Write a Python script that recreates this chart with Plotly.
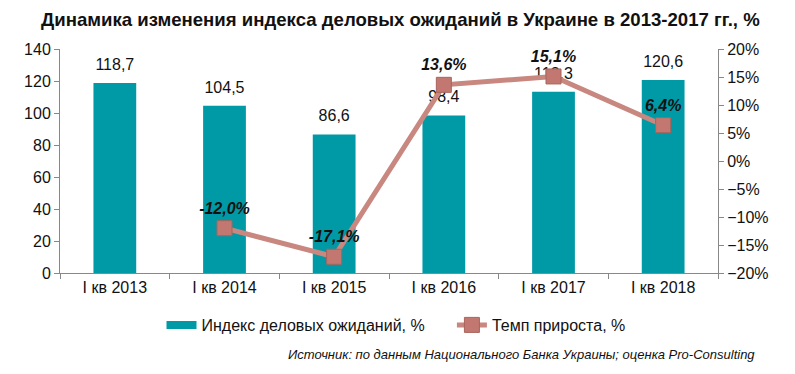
import plotly.graph_objects as go

categories = ["I кв 2013", "I кв 2014", "I кв 2015", "I кв 2016", "I кв 2017", "I кв 2018"]
index_values = [118.7, 104.5, 86.6, 98.4, 113.3, 120.6]
growth_values = [None, -12.0, -17.1, 13.6, 15.1, 6.4]

BAR_NAME = "Индекс деловых ожиданий, %"
LINE_NAME = "Темп прироста, %"
TEAL = "#0099A6"

fig = go.Figure()
fig.add_trace(go.Bar(
    x=categories, y=index_values, name=BAR_NAME, showlegend=False,
    marker=dict(color=TEAL, line=dict(width=0)),
    width=0.39,
))
# legend entry for the bars (wide rectangle like the original)
fig.add_trace(go.Scatter(
    x=[None], y=[None], name=BAR_NAME + "\u00a0" * 5, mode="lines",
    line=dict(color=TEAL, width=8),
))
fig.add_trace(go.Scatter(
    x=categories, y=growth_values, yaxis="y2", name=LINE_NAME,
    mode="lines+markers+text",
    line=dict(color="#C8877F", width=5),
    marker=dict(symbol="square", size=15, color="#C27870", line=dict(color="#A8645C", width=1)),
    texttemplate="<b><i>%{y:.1f}%</i></b>", textposition="top center",
    textfont=dict(size=16, color="#111", family="Liberation Sans, Arial"),
    cliponaxis=False,
))
# bar value labels drawn above the line
fig.add_trace(go.Scatter(
    x=categories, y=index_values, mode="markers+text", showlegend=False,
    marker=dict(size=13, color="rgba(0,0,0,0)"),
    texttemplate="%{y:.1f}", textposition="top center", cliponaxis=False,
    textfont=dict(size=16, color="#111", family="Liberation Sans, Arial"),
    hoverinfo="skip",
))

fig.update_layout(
    width=795, height=374,
    margin=dict(l=60, r=77, t=49, b=101, autoexpand=False),
    paper_bgcolor="white", plot_bgcolor="white",
    separators=", ",
    bargap=0.61,
    font=dict(family="Liberation Sans, Arial", size=16, color="#111"),
    showlegend=True,
    legend=dict(orientation="h", x=(396 - 60) / 658, xanchor="center", y=(273 - 325) / 224,
                yanchor="middle", font=dict(size=16), itemwidth=30, tracegroupgap=0),
    xaxis=dict(showline=True, linecolor="#888", linewidth=1, ticks="outside",
               tickson="boundaries", ticklen=5, tickcolor="#888",
               tickfont=dict(size=16), showgrid=False),
    yaxis=dict(range=[0, 140], dtick=20, showline=True, linecolor="#888", linewidth=1,
               ticks="outside", ticklen=5, tickcolor="#888", showgrid=False,
               zeroline=False, tickfont=dict(size=16)),
    yaxis2=dict(range=[-20, 20], dtick=5, overlaying="y", side="right", ticksuffix="%",
                showline=True, linecolor="#888", linewidth=1, ticks="outside", ticklen=5,
                tickcolor="#888", showgrid=False, zeroline=False, tickfont=dict(size=16)),
    annotations=[
        dict(text="<b>Динамика изменения индекса деловых ожиданий в Украине в 2013-2017 гг., %</b>",
             xref="paper", yref="paper", x=(400 - 60) / 658, y=(273 - 20) / 224,
             xanchor="center", yanchor="middle", showarrow=False,
             font=dict(size=18.6, color="#111")),
        dict(text="<i>Источник: по данным Национального Банка Украины; оценка Pro-Consulting</i>",
             xref="paper", yref="paper", x=(757 - 60) / 658, y=(273 - 354) / 224,
             xanchor="right", yanchor="middle", showarrow=False,
             font=dict(size=13, color="#111")),
    ],
)

fig.write_html("out.html", config={"displayModeBar": False},
               post_script="document.body.style.margin='0px';")
